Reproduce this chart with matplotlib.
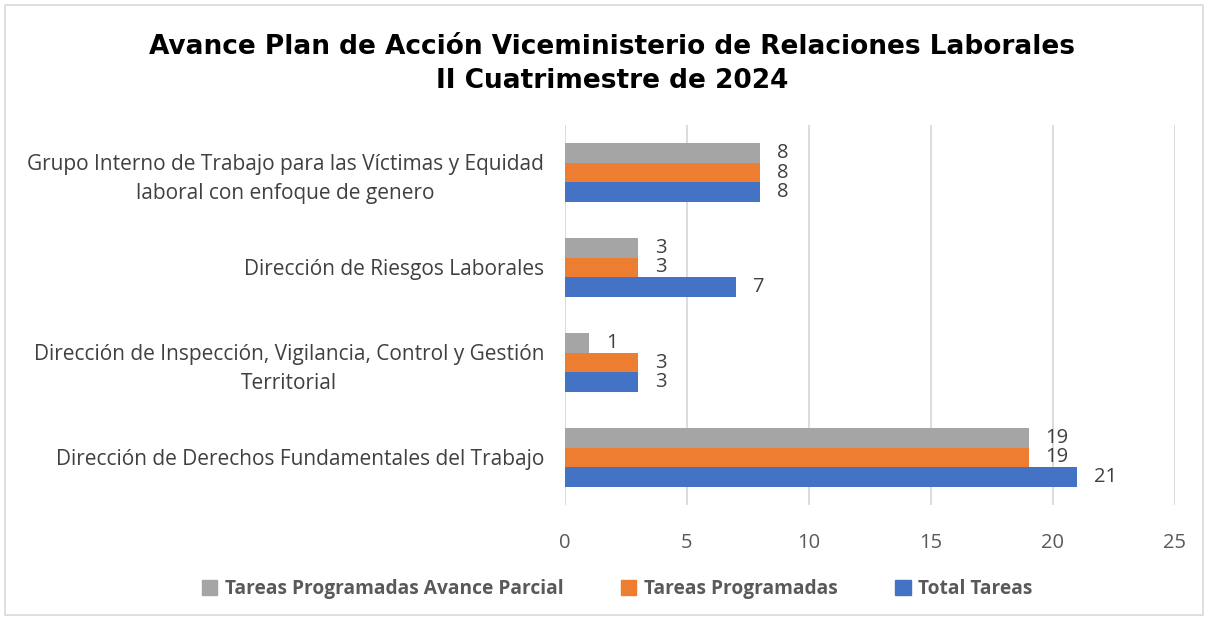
import matplotlib
matplotlib.use("Agg")
import matplotlib.pyplot as plt
from matplotlib.patches import Rectangle, Patch

categories = [
    "Dirección de Derechos Fundamentales del Trabajo",
    "Dirección de Inspección, Vigilancia, Control y Gestión\nTerritorial",
    "Dirección de Riesgos Laborales",
    "Grupo Interno de Trabajo para las Víctimas y Equidad\nlaboral con enfoque de genero",
]
total_tareas = [21, 3, 7, 8]
tareas_programadas = [19, 3, 3, 8]
avance_parcial = [19, 1, 3, 8]

series = [
    ("Total Tareas", total_tareas, "#4472C4", -0.21),
    ("Tareas Programadas", tareas_programadas, "#ED7D31", 0.0),
    ("Tareas Programadas Avance Parcial", avance_parcial, "#A5A5A5", 0.21),
]

font = ["Open Sans", "DejaVu Sans"]
txt = "#404040"
tick_c = "#595959"

fig = plt.figure(figsize=(12.08, 6.2), dpi=100)
fig.patches.append(Rectangle((5/1208, 5/620), 1198/1208, 610/620, transform=fig.transFigure,
                             fill=False, edgecolor="#d9d9d9", linewidth=1.2))
ax = fig.add_axes([565/1208, 1 - 505/620, 610/1208, 380/620])

ys = list(range(len(categories)))
for name, vals, col, off in series:
    pos = [y + off for y in ys]
    ax.barh(pos, vals, height=0.21, color=col, label=name, zorder=3)
    for p, v in zip(pos, vals):
        ax.annotate(str(v), (v, p), xytext=(12, 0), textcoords="offset points",
                    va="center", ha="left", fontsize=14.5, color=txt, family=font)

ax.set_xlim(0, 25)
ax.set_ylim(-0.5, 3.5)
ax.set_xticks([0, 5, 10, 15, 20, 25])
ax.set_yticks(ys)
ax.set_yticklabels(categories, multialignment="center", fontsize=15, color=txt, family=font,
                   linespacing=1.5)
for lab in ax.get_xticklabels():
    lab.set_fontsize(14.5)
    lab.set_color(tick_c)
    lab.set_family(font)
ax.tick_params(axis="y", length=0, pad=15)
ax.tick_params(axis="x", length=0, pad=20)
ax.grid(axis="x", color="#d9d9d9", linewidth=1.3, zorder=0)
for s in ax.spines.values():
    s.set_visible(False)

fig.text(0.507, 1 - 47/620, "Avance Plan de Acción Viceministerio de Relaciones Laborales",
         ha="center", va="center", fontsize=19, fontweight="bold", family="DejaVu Sans", color="black")
fig.text(0.507, 1 - 81/620, "II Cuatrimestre de 2024",
         ha="center", va="center", fontsize=19, fontweight="bold", family="DejaVu Sans", color="black")

handles = [Patch(color=c) for _, _, c, _ in series[::-1]]
labels = [n for n, _, _, _ in series[::-1]]
leg = fig.legend(handles, labels, loc="center", bbox_to_anchor=(0.511, 1 - 589/620), ncol=3,
                 frameon=False, handlelength=0.8, handleheight=0.8, handletextpad=0.4,
                 columnspacing=3.0, prop={"family": font, "size": 13.8, "weight": "bold"})
for t in leg.get_texts():
    t.set_color(tick_c)

fig.savefig("out.png", dpi=100)
